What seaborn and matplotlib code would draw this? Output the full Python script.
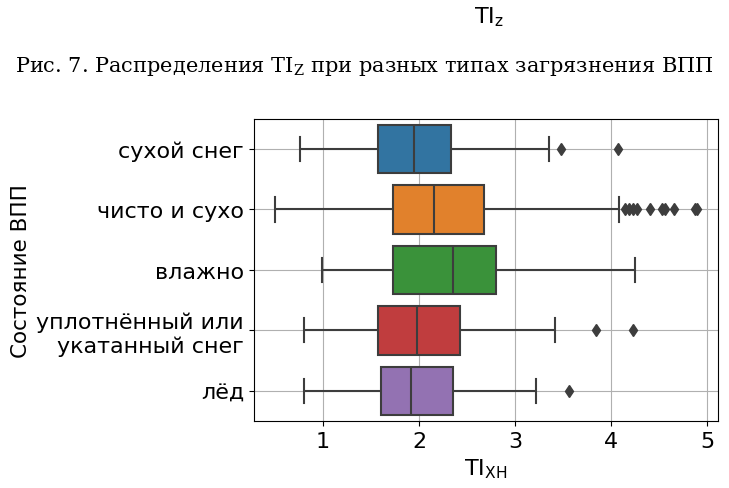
import numpy as np
import pandas as pd
import seaborn as sns
from matplotlib import pyplot as plt

# categories (top to bottom)
states = ["сухой снег", "чисто и сухо", "влажно", "уплотнённый или\nукатанный снег", "лёд"]

# box statistics
whis_lo = [0.76, 0.50, 0.99, 0.80, 0.80]
q1 = [1.57, 1.73, 1.73, 1.57, 1.60]
median = [1.95, 2.16, 2.35, 1.98, 1.92]
q3 = [2.33, 2.68, 2.80, 2.43, 2.35]
whis_hi = [3.35, 4.08, 4.25, 3.41, 3.22]
outliers = [
    [3.48, 4.07],
    [4.14, 4.18, 4.23, 4.27, 4.40, 4.53, 4.56, 4.65, 4.87, 4.89],
    [],
    [3.84, 4.23],
    [3.56],
]

# build a small sample per state that reproduces these quartiles
rows = []
for i, s in enumerate(states):
    high = [whis_hi[i]] + outliers[i]
    k = len(high)
    vals = [whis_lo[i]] + [q1[i]] * k + [median[i]] * k + [q3[i]] * k + high
    for v in vals:
        rows.append({"state": s, "TI": v})
df = pd.DataFrame(rows)

plt.rcParams['font.family'] = ['DejaVu Sans']
fig = plt.figure(figsize=(7.29, 4.89), dpi=100)
ax = fig.add_axes([0.348, 0.137, 0.637, 0.618])

sns.boxplot(data=df, x="TI", y="state", hue="state", order=states,
            palette="tab10", saturation=0.75, width=0.8, linewidth=1.5,
            linecolor="#3d3d3d", legend=False, ax=ax,
            flierprops=dict(marker="d", markerfacecolor="#3d3d3d",
                            markeredgecolor="#3d3d3d", markersize=6.5))

ax.grid(True, color="#b0b0b0", linewidth=0.8)
ax.set_xlim(0.28, 5.11)
ax.set_xticks([1, 2, 3, 4, 5])
ax.tick_params(labelsize=16)
ax.set_xlabel(r"TI$_\mathrm{ХН}$", fontsize=16)
ax.set_ylabel("Состояние ВПП", fontsize=15.5)

# text from the page around the chart
fig.text(0.67, 0.965, r"TI$_\mathrm{z}$", fontsize=16, ha="center", va="center")
fig.text(0.5, 0.865, r"Рис. 7. Распределения TI$_\mathrm{Z}$ при разных типах загрязнения ВПП",
         fontsize=15, ha="center", va="center", family="DejaVu Serif",
         math_fontfamily="dejavuserif")

fig.savefig("out.png", dpi=100)
plt.close()
